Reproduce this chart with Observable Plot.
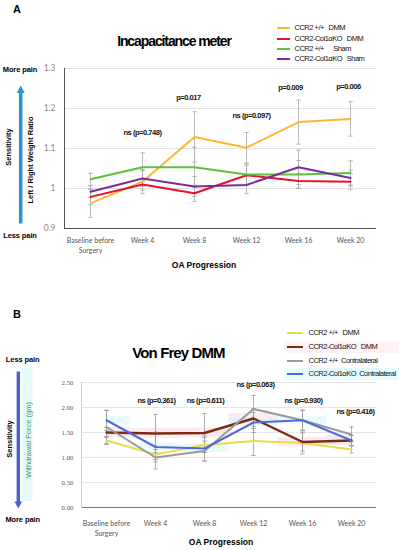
<!DOCTYPE html>
<html><head><meta charset="utf-8">
<script src="https://cdn.jsdelivr.net/npm/d3@7"></script>
<script src="https://cdn.jsdelivr.net/npm/@observablehq/plot@0.6"></script>
<style>
body{margin:0;background:#fff;}
#root{position:relative;width:399px;height:550px;overflow:hidden;font-family:"Liberation Sans",Arial,sans-serif;background:#fff;}
.abs{position:absolute;white-space:pre;line-height:1;}
.c{transform:translate(-50%,-50%);}
.rot{transform:translate(-50%,-50%) rotate(-90deg);}
svg.plot{position:absolute;left:0;}
</style></head><body><div id="root"></div>
<script>
// ---------- shared ----------
const categories = ["Baseline before\nSurgery", "Week 4", "Week 8", "Week 12", "Week 16", "Week 20"];

// ---------- Panel A : Incapacitance meter ----------
const seriesA = ["CCR2 +/+   DMM", "CCR2-Col1αKO   DMM", "CCR2 +/+      Sham", "CCR2-Col1αKO   Sham"];
const colorsA = ["#ffb630", "#e8112b", "#5cc23c", "#7b2c98"];
const yellowA = [0.963, 1.017, 1.129, 1.102, 1.166, 1.174];
const redA    = [0.979, 1.010, 0.988, 1.033, 1.019, 1.017];
const greenA  = [1.023, 1.053, 1.053, 1.035, 1.035, 1.039];
const purpleA = [0.992, 1.025, 1.005, 1.009, 1.053, 1.026];
const yellowErrA = [0.035, 0.030, 0.063, 0.038, 0.055, 0.043];
const redErrA    = [0.020, 0.014, 0.020, 0.025, 0.018, 0.020];
const greenErrA  = [0.015, 0.036, 0.050, 0.027, 0.035, 0.030];
const purpleErrA = [0.015, 0.020, 0.025, 0.022, 0.043, 0.020];
const yTicksA = [0.9, 1.0, 1.1, 1.2, 1.3];
const pTextA = ["ns (p=0.748)", "p=0.017", "ns (p=0.097)", "p=0.009", "p=0.006"];
const pCatA  = ["Week 4", "Week 8", "Week 12", "Week 16", "Week 20"];
const pYA    = [1.139, 1.2275, 1.183, 1.252, 1.256];

// ---------- Panel B : Von Frey DMM ----------
const seriesB = ["CCR2 +/+   DMM", "CCR2-Col1αKO   DMM", "CCR2 +/+  Contralateral", "CCR2-Col1αKO  Contralateral"];
const colorsB = ["#e6dd4a", "#7a2c10", "#9a9a9a", "#5369d6"];
const yellowB = [1.34, 1.06, 1.25, 1.33, 1.29, 1.16];
const brownB  = [1.50, 1.48, 1.49, 1.78, 1.31, 1.34];
const grayB   = [1.61, 1.00, 1.13, 1.97, 1.745, 1.46];
const blueB   = [1.745, 1.21, 1.18, 1.70, 1.745, 1.34];
const yellowErrB = [0.08, 0.10, 0.15, 0.29, 0.22, 0.07];
const brownErrB  = [0.10, 0.38, 0.39, 0.20, 0.18, 0.10];
const grayErrB   = [0.33, 0.23, 0.20, 0.27, 0.20, 0.15];
const blueErrB   = [0.20, 0.30, 0.25, 0.20, 0.20, 0.10];
const yTicksB = [0, 0.5, 1.0, 1.5, 2.0, 2.5];
const pTextB = ["ns (p=0.361)", "ns (p=0.611)", "ns (p=0.063)", "ns (p=0.930)", "ns (p=0.416)"];
const pCatB  = ["Week 4", "Week 8", "Week 12", "Week 16", "Week 20"];
const pYB    = [2.148, 2.148, 2.463, 2.148, 1.926];

// ---------- helpers ----------
function rows(series, values, errs) {
  const out = [];
  series.forEach((s, k) => values[k].forEach((v, i) => out.push({series: s, x: categories[i], y: v, err: errs[k][i]})));
  return out;
}
const capSymbol = {draw(ctx) { ctx.moveTo(-2.3, 0); ctx.lineTo(2.3, 0); }};
function errMarks(data, color) {
  return [
    Plot.ruleX(data, {x: "x", y1: d => d.y - d.err, y2: d => d.y + d.err, stroke: color, strokeWidth: 0.8}),
    Plot.dot(data, {x: "x", y: d => d.y - d.err, symbol: capSymbol, stroke: color, strokeWidth: 0.8, fill: "none"}),
    Plot.dot(data, {x: "x", y: d => d.y + d.err, symbol: capSymbol, stroke: color, strokeWidth: 0.8, fill: "none"})
  ];
}
const root = document.getElementById("root");
function addText(txt, x, y, css, cls = "c") {
  const d = document.createElement("div");
  d.className = "abs " + cls;
  d.textContent = txt;
  d.style.left = x + "px"; d.style.top = y + "px";
  Object.assign(d.style, css);
  root.appendChild(d);
  return d;
}

// ---------- Plot A ----------
const dataA = rows(seriesA, [yellowA, redA, greenA, purpleA], [yellowErrA, redErrA, greenErrA, purpleErrA]);
const pA = pTextA.map((t, i) => ({text: t, x: pCatA[i], y: pYA[i]}));
const pDxA = [0, -6, 5, -8, -2];
const plotA = Plot.plot({
  width: 399, height: 275,
  marginLeft: 64, marginRight: 23, marginTop: 68, marginBottom: 47,
  style: {background: "transparent", overflow: "visible"},
  x: {type: "point", domain: categories, padding: 0.5},
  y: {domain: [0.9, 1.3]},
  color: {domain: seriesA, range: colorsA},
  marks: [
    Plot.gridY(yTicksA.slice(1), {stroke: "#e2e2e2", strokeOpacity: 1, strokeWidth: 1}),
    Plot.axisY({ticks: yTicksA, tickFormat: d => d === 1 ? "1" : d.toFixed(1), tickSize: 0, tickPadding: 9,
      fontSize: 8.5, fontFamily: "Lato", color: "#8c8c8c", label: null}),
    Plot.axisX({tickSize: 0, tickPadding: 8, fontSize: 7, fontFamily: "Lato", color: "#555", lineHeight: 1.4, label: null}),
    ...errMarks(dataA, "#a8a8a8"),
    Plot.line(dataA, {x: "x", y: "y", z: "series", stroke: "series", strokeWidth: 2}),
    Plot.ruleY([0.9], {stroke: "#555", strokeWidth: 1}),
    Plot.frame({anchor: "left", stroke: "#555", strokeWidth: 1}),
    ...pA.map((d, i) => Plot.text([d], {x: "x", y: "y", text: "text", dx: pDxA[i], fontSize: 7.5, fontWeight: "bold", fontFamily: "Liberation Sans", fill: "#111"}))
  ]
});
plotA.classList.add("plot");
plotA.style.top = "0px";
root.appendChild(plotA);

// ---------- Plot B ----------
const dataB = rows(seriesB, [yellowB, brownB, grayB, blueB], [yellowErrB, brownErrB, grayErrB, blueErrB]);
const pB = pTextB.map((t, i) => ({text: t, x: pCatB[i], y: pYB[i]}));
const pDxB = [1, 1, 2, 1, 4];
const brownRows = dataB.filter(d => d.series === seriesB[1]);
const blueRows = dataB.filter(d => d.series === seriesB[3]);
const plotB = Plot.plot({
  width: 399, height: 270,
  marginLeft: 81, marginRight: 23, marginTop: 102, marginBottom: 43,
  style: {background: "transparent", overflow: "visible"},
  x: {type: "point", domain: categories, padding: 0.5},
  y: {domain: [0, 2.5]},
  color: {domain: seriesB, range: colorsB},
  marks: [
    Plot.gridY(yTicksB.slice(1), {stroke: "#e6e6e6", strokeOpacity: 1, strokeWidth: 1}),
    Plot.areaY(brownRows, {x: "x", y1: d => d.y - 0.1, y2: d => d.y + 0.1, curve: "step", fill: "#fbd3e4", fillOpacity: 0.45}),
    Plot.areaY(blueRows, {x: "x", y1: d => d.y - 0.08, y2: d => d.y + 0.08, curve: "step", fill: "#c8f2f7", fillOpacity: 0.4}),
    Plot.axisY({ticks: yTicksB, tickFormat: d => d.toFixed(2), tickSize: 0, tickPadding: 8,
      fontSize: 6.8, fontFamily: "Liberation Serif", color: "#555", label: null}),
    Plot.axisX({tickSize: 0, tickPadding: 12, fontSize: 7, fontFamily: "Lato", color: "#555", lineHeight: 1.4, label: null}),
    ...errMarks(dataB, "#9c9c9c"),
    Plot.line(dataB, {x: "x", y: "y", z: "series", stroke: "series", strokeWidth: d => d.series === seriesB[1] ? 2.4 : 2}),
    Plot.ruleY([0], {stroke: "#777", strokeWidth: 1}),
    Plot.frame({anchor: "left", stroke: "#cfcfcf", strokeWidth: 1}),
    ...pB.map((d, i) => Plot.text([d], {x: "x", y: "y", text: "text", dx: pDxB[i], fontSize: 7.5, fontWeight: "bold", fontFamily: "Liberation Sans", fill: "#111"}))
  ]
});
plotB.classList.add("plot");
plotB.style.top = "280px";
root.appendChild(plotB);

// condensed annotation text
d3.selectAll("svg.plot g[aria-label='text'] text").style("letter-spacing", "-0.45px");

// ---------- decorations (arrows, bands) ----------
const ns = "http://www.w3.org/2000/svg";
const deco = d3.select(root).append("svg").attr("width", 399).attr("height", 550)
  .style("position", "absolute").style("left", 0).style("top", 0).style("pointer-events", "none");
// Panel A arrow (up)
deco.append("line").attr("x1", 20.7).attr("x2", 20.7).attr("y1", 223.5).attr("y2", 92).attr("stroke", "#2f93cb").attr("stroke-width", 3.6);
deco.append("path").attr("d", "M16.7,93 L20.7,85.5 L24.7,93 Z").attr("fill", "#2f93cb");
// Panel B band + arrow (down)
deco.insert("rect", ":first-child").attr("x", 21.5).attr("y", 368).attr("width", 11).attr("height", 133).attr("fill", "#e6fbfe");
deco.append("line").attr("x1", 18.3).attr("x2", 18.3).attr("y1", 371.5).attr("y2", 502).attr("stroke", "#4f5fc6").attr("stroke-width", 3.4);
deco.append("path").attr("d", "M14.5,501.5 L18.3,508.5 L22.1,501.5 Z").attr("fill", "#4f5fc6");

// ---------- texts ----------
addText("A", 17, 9, {fontSize: "11px", fontWeight: "bold"});
addText("B", 17, 314, {fontSize: "11px", fontWeight: "bold"});
addText("Incapacitance meter", 174, 41, {fontSize: "14px", fontWeight: "bold", letterSpacing: "-1.1px"});
addText("Von Frey DMM", 178.5, 352, {fontSize: "15px", fontWeight: "bold", letterSpacing: "-0.9px"});

addText("More pain", 20, 69.5, {fontSize: "7.5px", fontWeight: "bold", letterSpacing: "-0.1px"});
addText("Less pain", 20, 236, {fontSize: "7.5px", fontWeight: "bold", letterSpacing: "-0.1px"});
addText("Sensitivity", 9, 147, {fontSize: "7.5px", fontWeight: "bold"}, "rot");
addText("Left / Right Weight Ratio", 30.5, 160, {fontSize: "7.5px", fontWeight: "bold"}, "rot");
addText("OA Progression", 204, 265, {fontSize: "8.5px", fontWeight: "bold"});

addText("Less pain", 22.7, 360, {fontSize: "7.5px", fontWeight: "bold", letterSpacing: "-0.1px"});
addText("More pain", 22.7, 520, {fontSize: "7.5px", fontWeight: "bold", letterSpacing: "-0.1px"});
addText("Sensitivity", 10, 439, {fontSize: "7.5px", fontWeight: "bold"}, "rot");
addText("Withdrawal Force (gm)", 29, 440, {fontSize: "7.5px", color: "#3f9a6e"}, "rot");
addText("OA Progression", 221, 542, {fontSize: "8.5px", fontWeight: "bold"});

// ---------- legends ----------
function legend(series, colors, x, ys, textX, lineW, bgs) {
  series.forEach((s, i) => {
    if (bgs && bgs[i]) {
      const b = document.createElement("div");
      b.className = "abs";
      Object.assign(b.style, {left: (x - 3) + "px", top: (ys[i] - 6) + "px", width: (399 - x + 3) + "px", height: "12px", background: bgs[i]});
      root.insertBefore(b, root.firstChild);
    }
    const l = document.createElement("div");
    l.className = "abs";
    Object.assign(l.style, {left: x + "px", top: (ys[i] - 1) + "px", width: lineW + "px", height: "2px", background: colors[i]});
    root.appendChild(l);
    addText(s, textX, ys[i] - 4, {fontSize: "7.5px", letterSpacing: "-0.5px", color: "#111"}, "");
  });
}
legend(seriesA, colorsA, 277, [28.3, 38.5, 49, 59.2], 294.5, 13, null);
legend(seriesB, colorsB, 287, [332.7, 347.3, 360.7, 374.3], 308.5, 16, [null, "#fff2f6", null, "#e8fbfd"]);
</script></body></html>
